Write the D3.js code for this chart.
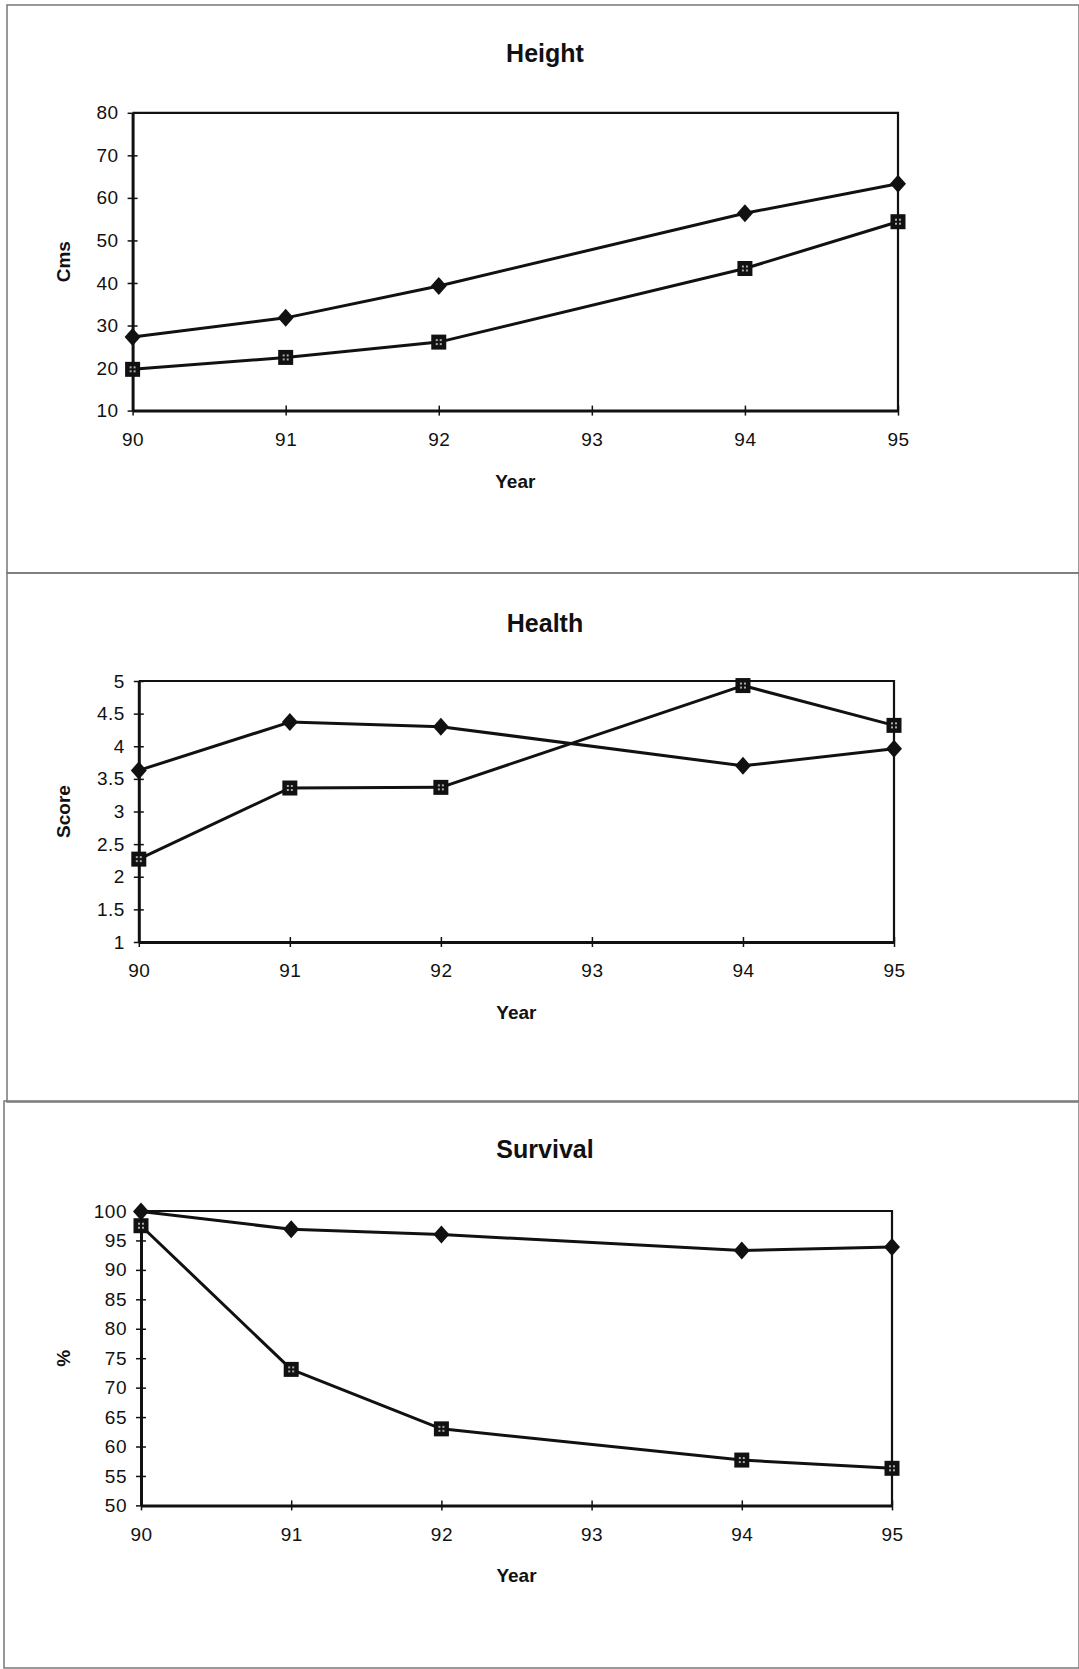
<!DOCTYPE html>
<html>
<head>
<meta charset="utf-8">
<script src="https://cdn.jsdelivr.net/npm/d3@7"></script>
<style>
  body { margin: 0; background: #fff; }
  svg { display: block; }
  text { font-family: "Liberation Sans", Arial, sans-serif; fill: #111; }
</style>
</head>
<body>
<svg width="1079" height="1669"></svg>
<script>
// data
var years = [90, 91, 92, 94, 95];
var xTicks = [90, 91, 92, 93, 94, 95];

var heightDiamond = [27.3, 31.8, 39.3, 56.4, 63.3];
var heightSquare  = [19.7, 22.5, 26.1, 43.4, 54.4];
var heightTicks   = [10, 20, 30, 40, 50, 60, 70, 80];

var healthDiamond = [3.63, 4.37, 4.30, 3.70, 3.96];
var healthSquare  = [2.27, 3.36, 3.37, 4.93, 4.32];
var healthTicks   = [1, 1.5, 2, 2.5, 3, 3.5, 4, 4.5, 5];

var survivalDiamond = [99.9, 96.9, 96.0, 93.3, 93.9];
var survivalSquare  = [97.5, 73.1, 63.0, 57.7, 56.3];
var survivalTicks   = [50, 55, 60, 65, 70, 75, 80, 85, 90, 95, 100];

var svg = d3.select("svg");

// panel frames (scanned sheet)
var frames = [
  {x: 7, y: 5, w: 1072, h: 568},
  {x: 7, y: 573, w: 1072, h: 529},
  {x: 4, y: 1101, w: 1075, h: 567}
];
svg.selectAll("rect.frame")
  .data(frames)
  .enter().append("rect")
  .attr("class", "frame")
  .attr("x", function(d){ return d.x; })
  .attr("y", function(d){ return d.y; })
  .attr("width", function(d){ return d.w; })
  .attr("height", function(d){ return d.h; })
  .attr("fill", "none")
  .attr("stroke", "#777")
  .attr("stroke-width", 1.5);

var charts = [
  {title: "Height", ylab: "Cms", a: heightDiamond, b: heightSquare, ticks: heightTicks,
   left: 132.6, right: 898, top: 112.8, bottom: 410.6, titleY: 62},
  {title: "Health", ylab: "Score", a: healthDiamond, b: healthSquare, ticks: healthTicks,
   left: 138.8, right: 894, top: 681, bottom: 942, titleY: 632},
  {title: "Survival", ylab: "%", a: survivalDiamond, b: survivalSquare, ticks: survivalTicks,
   left: 141, right: 892, top: 1211, bottom: 1505.4, titleY: 1158}
];

charts.forEach(drawChart);

function drawChart(c)
{
  var x = d3.scaleLinear().domain([90, 95]).range([c.left, c.right]);
  var y = d3.scaleLinear().domain(d3.extent(c.ticks)).range([c.bottom, c.top]);
  var g = svg.append("g");

  g.append("text")
    .attr("x", 545).attr("y", c.titleY)
    .attr("text-anchor", "middle")
    .style("font-size", "25px").style("font-weight", "bold")
    .text(c.title);

  // top + right border of plot area
  g.append("path")
    .attr("d", "M" + c.left + "," + c.top + "H" + c.right + "V" + c.bottom)
    .attr("fill", "none").attr("stroke", "#111").attr("stroke-width", 2.2);

  var xAxis = g.append("g")
    .attr("transform", "translate(0," + c.bottom + ")")
    .call(d3.axisBottom(x).tickValues(xTicks).tickFormat(d3.format("d")).tickSize(0).tickPadding(22));
  xAxis.select(".domain").attr("stroke", "#111").attr("stroke-width", 3);
  xAxis.selectAll(".tick line").attr("y1", -5).attr("y2", 5).attr("stroke", "#111").attr("stroke-width", 1.5);
  xAxis.selectAll(".tick text").style("font-size", "19px").style("letter-spacing", "0.5px")
    .style("font-family", "Liberation Sans, Arial, sans-serif").attr("fill", "#111");

  var yAxis = g.append("g")
    .attr("transform", "translate(" + c.left + ",0)")
    .call(d3.axisLeft(y).tickValues(c.ticks).tickFormat(d3.format("~g")).tickSize(0).tickPadding(14));
  yAxis.select(".domain").attr("stroke", "#111").attr("stroke-width", 3);
  yAxis.selectAll(".tick line").attr("x1", -5).attr("x2", 5).attr("stroke", "#111").attr("stroke-width", 1.5);
  yAxis.selectAll(".tick text").style("font-size", "19px").style("letter-spacing", "0.5px")
    .style("font-family", "Liberation Sans, Arial, sans-serif").attr("fill", "#111");

  g.append("text")
    .attr("x", (c.left + c.right) / 2).attr("y", c.bottom + 77)
    .attr("text-anchor", "middle")
    .style("font-size", "19px").style("font-weight", "bold")
    .text("Year");

  g.append("text")
    .attr("transform", "translate(70," + (c.top + c.bottom) / 2 + ") rotate(-90)")
    .attr("text-anchor", "middle")
    .style("font-size", "19px").style("font-weight", "bold")
    .text(c.ylab);

  var line = d3.line()
    .x(function(d, i){ return x(years[i]); })
    .y(function(d){ return y(d); });

  [c.a, c.b].forEach(function(s){
    g.append("path")
      .attr("d", line(s))
      .attr("fill", "none")
      .attr("stroke", "#111")
      .attr("stroke-width", 3)
      .attr("stroke-linejoin", "round");
  });

  // diamonds
  g.selectAll("path.dia")
    .data(c.a)
    .enter().append("path")
    .attr("class", "dia")
    .attr("transform", function(d, i){ return "translate(" + x(years[i]) + "," + y(d) + ")"; })
    .attr("d", "M0,-9L8,0L0,9L-8,0Z")
    .attr("fill", "#111");

  // squares
  var sq = g.selectAll("g.sq")
    .data(c.b)
    .enter().append("g")
    .attr("class", "sq")
    .attr("transform", function(d, i){ return "translate(" + x(years[i]) + "," + y(d) + ")"; });
  sq.append("rect")
    .attr("x", -7.5).attr("y", -7.5).attr("width", 15).attr("height", 15)
    .attr("fill", "#111");
  [[-3, -3], [1, -3], [-3, 1], [1, 1]].forEach(function(p){
    sq.append("rect")
      .attr("x", p[0]).attr("y", p[1]).attr("width", 2).attr("height", 2)
      .attr("fill", "#aaa");
  });
}
</script>
</body>
</html>
